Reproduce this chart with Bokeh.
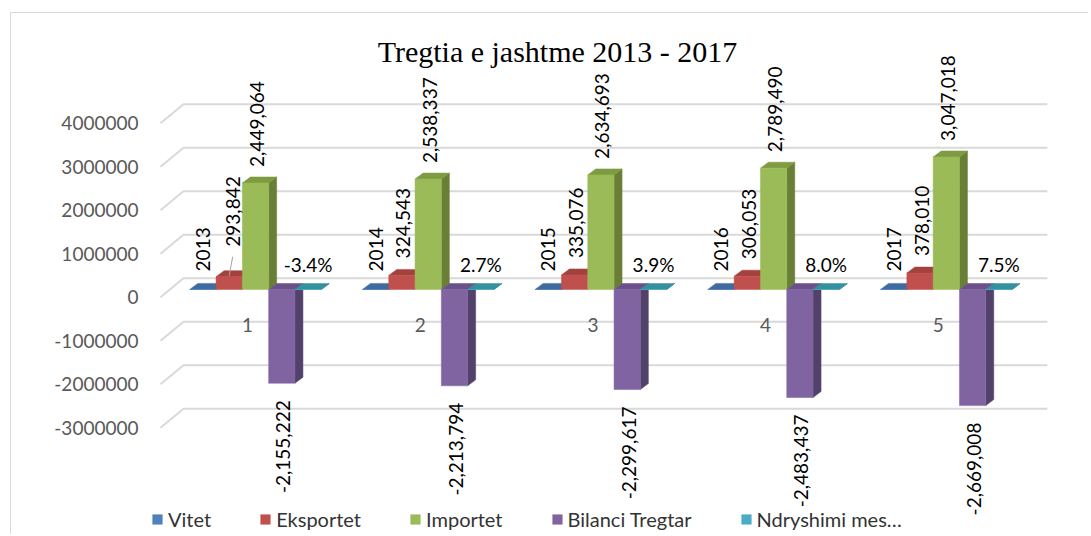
import math
from bokeh.plotting import figure
from bokeh.models import (Range1d, FixedTicker, NumeralTickFormatter, Legend, LegendItem,
                          ColumnDataSource)
from bokeh.core.properties import value
from bokeh.embed import file_html
from bokeh.resources import INLINE

# ---------------- data ----------------
categories = ["1", "2", "3", "4", "5"]
vitet = [2013, 2014, 2015, 2016, 2017]
eksportet = [293842, 324543, 335076, 306053, 378010]
importet = [2449064, 2538337, 2634693, 2789490, 3047018]
bilanci = [-2155222, -2213794, -2299617, -2483437, -2669008]
ndryshimi = [-0.034, 0.027, 0.039, 0.080, 0.075]
ndryshimi_labels = ["-3.4%", "2.7%", "3.9%", "8.0%", "7.5%"]
series_names = ["Vitet", "Eksportet", "Importet", "Bilanci Tregtar", "Ndryshimi mes…"]
y_ticks = [-3000000, -2000000, -1000000, 0, 1000000, 2000000, 3000000, 4000000]
title_text = "Tregtia e jashtme 2013 - 2017"

# ---------------- layout ----------------
W, H = 1088, 534
LEFT = 9
PX_CAT = 172.7            # pixels per category unit
PX_VAL = 43.5e-6          # pixels per value unit
ZERO_FROM_TOP = 296.7     # canvas px of label-plane zero
FIRST_FROM_FRAME = 246.0  # frame px of first category centre

def dxu(px):
    return px / PX_CAT

def dyu(px):
    return px / PX_VAL

y_end = dyu(ZERO_FROM_TOP)
y_start = y_end - dyu(H)
x_start = 1 - dxu(FIRST_FROM_FRAME)
x_end = x_start + dxu(W - LEFT)

p = figure(width=W, height=H, output_backend="svg", toolbar_location=None,
           x_range=Range1d(x_start, x_end), y_range=Range1d(y_start, y_end),
           min_border_left=LEFT, min_border_right=0, min_border_top=0, min_border_bottom=0)
p.outline_line_color = None
p.grid.visible = False
p.xaxis.visible = False
p.background_fill_color = "white"
p.border_fill_color = "white"

ax = p.yaxis[0]
ax.fixed_location = 1 - dxu(115)
ax.ticker = FixedTicker(ticks=y_ticks)
ax.formatter = NumeralTickFormatter(format="0")
ax.axis_line_color = None
ax.major_tick_line_color = None
ax.minor_tick_line_color = None
ax.major_tick_out = 0
ax.major_tick_in = 0
ax.major_label_standoff = 2
ax.major_label_text_font = "Lato"
ax.major_label_text_font_size = "19px"
ax.major_label_text_color = "#595959"

# chart border (top and left edges)
BX = x_start + dxu(1)
BY = y_end - dyu(12)
p.line([BX, x_end], [BY, BY], line_color="#d9d9d9", line_width=1)
p.line([BX, BX], [BY, y_start], line_color="#d9d9d9", line_width=1)

# ---------------- 3D walls / gridlines ----------------
n = len(categories)
GX_FRONT = 1 - dxu(95)
GX_BACK0 = GX_FRONT + dxu(23)
GX_BACK1 = n + dxu(101)
GDY = dyu(19)
gx, gy = [], []
for v in y_ticks:
    gx.append([GX_FRONT, GX_BACK0, GX_BACK1])
    gy.append([v, v + GDY, v + GDY])
p.multi_line(gx, gy, line_color="#d9d9d9", line_width=2)

# ---------------- bars ----------------
BW = dxu(26.3)
DX = dxu(8)
DY = dyu(6)
BZ = dyu(7.7)
all_series = [vitet, eksportet, importet, bilanci, ndryshimi]
fronts = ["#4F81BD", "#C0504D", "#9BBB59", "#8064A2", "#4BACC6"]
tops = ["#3f6b9f", "#a3413e", "#7e9b42", "#6a5189", "#35909f"]
sides = ["#2f5078", "#8a3735", "#687f35", "#52416b", "#2a7282"]

front_renderers = [None] * 5
for i in range(n):
    cx = i + 1
    for k, vals in enumerate(all_series):
        v = vals[i]
        x0 = cx + (k - 2) * BW - BW / 2
        x1 = x0 + BW
        yb = min(0, v) + BZ
        yt = max(0, v) + BZ
        p.patch([x1, x1 + DX, x1 + DX, x1], [yb, yb + DY, yt + DY, yt],
                fill_color=sides[k], line_color=sides[k], line_width=0.5)
        p.patch([x0, x1, x1 + DX, x0 + DX], [yt, yt, yt + DY, yt + DY],
                fill_color=tops[k], line_color=tops[k], line_width=0.5)
        r = p.quad(left=x0, right=x1, bottom=yb, top=yt,
                   fill_color=fronts[k], line_color=fronts[k], line_width=0.5)
        if i == 0:
            front_renderers[k] = r

# ---------------- data labels ----------------
def centre(i, k):
    return (i + 1) + (k - 2) * BW

label_lift = [13, 0, 0, 0, 0]   # first export label raised with leader line

src_up = dict(x=[], y=[], t=[])
for i in range(n):
    src_up["x"].append(centre(i, 0))
    src_up["y"].append(max(0, vitet[i]) + BZ + dyu(18))
    src_up["t"].append(str(vitet[i]))
    src_up["x"].append(centre(i, 1) + dxu(1.5 + (2 if label_lift[i] else 0)))
    src_up["y"].append(max(0, eksportet[i]) + BZ + dyu(17 + label_lift[i]))
    src_up["t"].append(f"{eksportet[i]:,}")
    src_up["x"].append(centre(i, 2) + dxu(1.5))
    src_up["y"].append(max(0, importet[i]) + BZ + dyu(16))
    src_up["t"].append(f"{importet[i]:,}")
p.text(x="x", y="y", text="t", source=ColumnDataSource(src_up), angle=math.pi / 2,
       text_align="left", text_baseline="middle", text_font=value("Lato"),
       text_font_size="19px", text_color="#000000")

src_dn = dict(x=[centre(i, 3) + dxu(1.5) for i in range(n)],
              y=[min(0, bilanci[i]) + BZ - dyu(17) for i in range(n)],
              t=[f"{bilanci[i]:,}" for i in range(n)])
p.text(x="x", y="y", text="t", source=ColumnDataSource(src_dn), angle=math.pi / 2,
       text_align="right", text_baseline="middle", text_font=value("Lato"),
       text_font_size="19px", text_color="#000000")

src_pct = dict(x=[centre(i, 4) for i in range(n)],
               y=[max(0, ndryshimi[i]) + BZ + dyu(25) for i in range(n)],
               t=ndryshimi_labels)
p.text(x="x", y="y", text="t", source=ColumnDataSource(src_pct),
       text_align="center", text_baseline="middle", text_font=value("Lato"),
       text_font_size="19px", text_color="#000000")

# leader line for the raised label
lx, ly = [], []
for i in range(n):
    if label_lift[i]:
        c = centre(i, 1)
        top = eksportet[i] + BZ
        lx.append([c, c + dxu(3.5)])
        ly.append([top + dyu(1), top + dyu(20)])
p.multi_line(lx, ly, line_color="#a6a6a6", line_width=1)

# category labels
p.text(x=[j + 1 - dxu(8) for j in range(n)], y=[-dyu(28)] * n, text=categories,
       text_align="center", text_baseline="middle", text_font=value("Lato"),
       text_font_size="19px", text_color="#595959")

# title
p.text(x=[1 + dxu(302)], y=[y_end - dyu(51)], text=[title_text],
       text_align="center", text_baseline="middle",
       text_font=value("Liberation Serif"), text_font_size="30px", text_color="#000000")

# ---------------- legend ----------------
legend = Legend(items=[LegendItem(label=series_names[k], renderers=[front_renderers[k]])
                       for k in range(5)],
                orientation="horizontal", location=(151 - LEFT, 3))
legend.glyph_width = 12
legend.glyph_height = 12
legend.label_standoff = 5
legend.spacing = 48
legend.padding = 0
legend.margin = 0
legend.border_line_color = None
legend.background_fill_alpha = 0
legend.label_text_font = "Lato"
legend.label_text_font_size = "20px"
legend.label_text_color = "#333333"
p.add_layout(legend)

open("out.html", "w").write(file_html(p, INLINE))
